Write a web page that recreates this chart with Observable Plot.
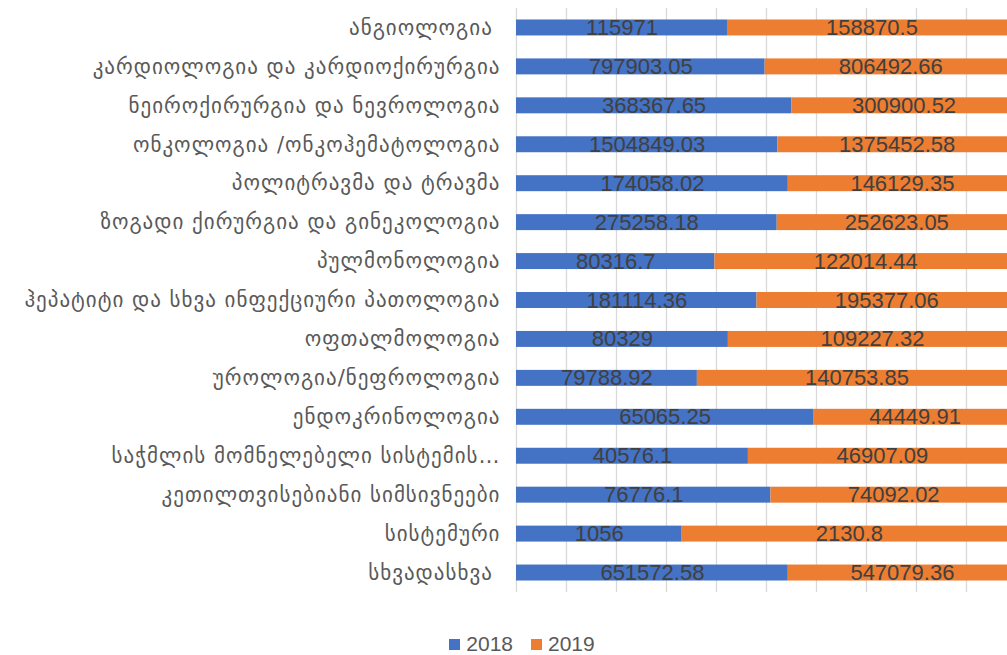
<!DOCTYPE html>
<html><head><meta charset="utf-8">
<script src="https://cdn.jsdelivr.net/npm/d3@7"></script>
<script src="https://cdn.jsdelivr.net/npm/@observablehq/plot@0.6"></script>
<style>
body{margin:0;background:#fff;overflow:hidden;width:1007px;height:655px}
#chart svg{overflow:hidden;display:block}
.ylab text{white-space:pre}
#legend{position:absolute;top:632px;left:0;width:1044px;display:flex;justify-content:center;align-items:center;font-family:"Liberation Sans",Arial,sans-serif;font-size:21px;color:#595959}
#legend span.sw{display:inline-block;width:11px;height:11px;margin-right:6px}
#legend span.item{display:inline-flex;align-items:center;margin:0 9px}
</style></head><body><div id="chart"></div><div id="legend"></div><script>
const categories = [
 "ანგიოლოგია ",
 "კარდიოლოგია და კარდიოქირურგია",
 "ნეიროქირურგია და ნევროლოგია",
 "ონკოლოგია /ონკოჰემატოლოგია",
 "პოლიტრავმა და ტრავმა",
 "ზოგადი ქირურგია და გინეკოლოგია",
 "პულმონოლოგია",
 "ჰეპატიტი და სხვა ინფექციური პათოლოგია",
 "ოფთალმოლოგია",
 "უროლოგია/ნეფროლოგია",
 "ენდოკრინოლოგია",
 "საჭმლის მომნელებელი სისტემის…",
 "კეთილთვისებიანი სიმსივნეები",
 "სისტემური",
 "სხვადასხვა "
];
const values2018 = [115971, 797903.05, 368367.65, 1504849.03, 174058.02, 275258.18, 80316.7, 181114.36, 80329, 79788.92, 65065.25, 40576.1, 76776.1, 1056, 651572.58];
const values2019 = [158870.5, 806492.66, 300900.52, 1375452.58, 146129.35, 252623.05, 122014.44, 195377.06, 109227.32, 140753.85, 44449.91, 46907.09, 74092.02, 2130.8, 547079.36];
const years = ["2018", "2019"];
const colors = ["#4472C4", "#ED7D31"];

const data = categories.flatMap((c, i) => [
  {cat: c, year: years[0], value: values2018[i]},
  {cat: c, year: years[1], value: values2019[i]}
]);

const plot = Plot.plot({
  width: 1007, height: 615,
  marginLeft: 516, marginRight: 0, marginTop: 8, marginBottom: 23,
  style: {background: "#fff"},
  x: {domain: [0, 1], range: [516, 1016], axis: null},
  y: {domain: categories, range: [8, 592], round: false, paddingInner: 0.59, paddingOuter: 0.295, label: null, axis: null},
  color: {domain: years, range: colors},
  marks: [
    Plot.gridX({ticks: 10, stroke: "#d9d9d9", strokeOpacity: 1, strokeWidth: 1.3}),
    Plot.barX(data, Plot.stackX({x: "value", y: "cat", fill: "year", offset: "normalize"})),
    Plot.text(data, Plot.stackX({x: "value", y: "cat", z: "year", offset: "normalize",
      text: d => String(d.value), fill: "#404040", fontSize: 22,
      fontFamily: "Liberation Sans, Arial, sans-serif"})),
    Plot.axisY({tickSize: 0, tickPadding: 16, fontSize: 21, fill: "#595959", label: null,
      fontFamily: "DejaVu Sans, sans-serif", className: "ylab"})
  ]
});
document.getElementById("chart").append(plot);
d3.select(plot).selectAll(".ylab text").style("letter-spacing", "1px");

const lg = d3.select("#legend");
years.forEach((y, i) => {
  const it = lg.append("span").attr("class", "item");
  it.append("span").attr("class", "sw").style("background", colors[i]);
  it.append("span").text(y);
});
</script></body></html>
